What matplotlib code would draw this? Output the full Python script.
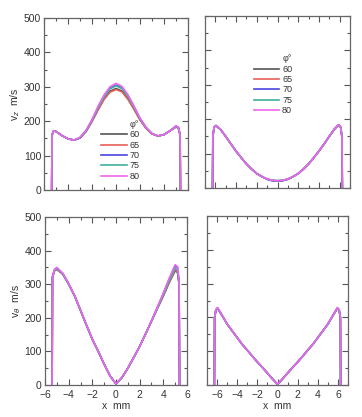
import matplotlib
matplotlib.use("Agg")
import matplotlib.pyplot as plt
from matplotlib.ticker import MultipleLocator

plt.rcParams['font.family'] = ['Liberation Sans', 'DejaVu Sans']

phi_labels = ["60", "65", "70", "75", "80"]
colors = ["#555555", "#e8605a", "#4a45e0", "#3fb0a0", "#ee66ee"]

# ---- top-left: v_z, narrow geometry ----
x_tl = [-5.36, -5.33, -5.2, -5.0, -4.5, -4.0, -3.5, -3.0, -2.5, -2.0, -1.5, -1.0,
        -0.5, 0.0, 0.5, 1.0, 1.5, 2.0, 2.5, 3.0, 3.5, 4.0, 4.5, 5.0, 5.2, 5.34, 5.37]
vz_tl_60 = [0, 160, 172, 170, 158, 149, 145, 151, 170, 200, 234, 265, 287, 295, 288, 266, 236, 205, 180, 163, 157, 161, 172, 183, 180, 160, 0]
vz_tl_65 = [0, 160, 172, 170, 158, 149, 145, 151, 170, 199, 232, 263, 284, 292, 285, 263, 234, 203, 179, 163, 157, 161, 172, 184, 181, 160, 0]
vz_tl_70 = [0, 160, 172, 170, 158, 149, 145, 152, 172, 203, 240, 272, 296, 305, 297, 274, 242, 208, 182, 164, 157, 161, 172, 186, 182, 160, 0]
vz_tl_75 = [0, 160, 172, 170, 158, 149, 145, 152, 172, 202, 238, 270, 294, 303, 295, 272, 240, 207, 181, 164, 157, 161, 172, 185, 181, 160, 0]
vz_tl_80 = [0, 160, 172, 170, 158, 149, 145, 153, 173, 205, 243, 276, 300, 310, 301, 277, 244, 209, 182, 164, 157, 161, 172, 186, 182, 160, 0]

# ---- top-right: v_z, wide geometry ----
x_tr = [-6.27, -6.24, -6.12, -5.95, -5.5, -5.0, -4.5, -4.0, -3.5, -3.0, -2.5, -2.0, -1.5,
        -1.0, -0.5, 0.0, 0.5, 1.0, 1.5, 2.0, 2.5, 3.0, 3.5, 4.0, 4.5, 5.0, 5.5, 5.9, 6.1, 6.22, 6.26]
vz_tr_60 = [0, 150, 177, 181, 170, 150, 128, 107, 88, 70, 55, 42, 33, 26, 22, 21, 22, 26, 33, 42, 55, 70, 88, 107, 128, 150, 171, 183, 176, 150, 0]
vz_tr_65 = [0, 150, 177, 181, 170, 150, 128, 107, 88, 70, 55, 42, 33, 26, 22, 21, 22, 26, 33, 42, 55, 70, 88, 107, 128, 150, 171, 183, 176, 150, 0]
vz_tr_70 = [0, 150, 177, 182, 170, 150, 128, 107, 88, 70, 55, 42, 33, 25, 21, 20, 21, 25, 33, 42, 55, 70, 88, 107, 128, 150, 172, 184, 177, 150, 0]
vz_tr_75 = [0, 150, 177, 181, 170, 150, 128, 107, 88, 70, 55, 42, 33, 26, 22, 21, 22, 26, 33, 42, 55, 70, 88, 107, 128, 150, 171, 183, 176, 150, 0]
vz_tr_80 = [0, 150, 177, 182, 170, 150, 128, 107, 88, 70, 55, 42, 33, 26, 22, 21, 22, 26, 33, 42, 55, 70, 88, 107, 128, 150, 172, 184, 177, 150, 0]

# ---- bottom-left: v_theta, narrow geometry ----
x_bl = [-5.4, -5.37, -5.2, -5.0, -4.5, -4.0, -3.5, -3.0, -2.5, -2.0, -1.5, -1.0, -0.5,
        0.0, 0.5, 1.0, 1.5, 2.0, 2.5, 3.0, 3.5, 4.0, 4.5, 5.0, 5.2, 5.33, 5.37]
vt_bl_60 = [0, 320, 340, 344, 330, 300, 265, 222, 178, 136, 100, 62, 27, 3, 22, 50, 82, 115, 152, 190, 228, 265, 305, 340, 335, 300, 0]
vt_bl_65 = [0, 320, 340, 344, 330, 300, 265, 222, 178, 136, 100, 62, 27, 3, 22, 50, 82, 115, 152, 190, 228, 266, 306, 343, 338, 300, 0]
vt_bl_70 = [0, 322, 343, 348, 332, 301, 266, 223, 179, 136, 100, 62, 27, 3, 22, 50, 82, 115, 152, 191, 231, 272, 315, 355, 350, 305, 0]
vt_bl_75 = [0, 321, 341, 346, 331, 300, 265, 222, 178, 136, 100, 62, 27, 3, 22, 50, 82, 115, 152, 190, 229, 268, 310, 348, 342, 302, 0]
vt_bl_80 = [0, 322, 344, 350, 333, 302, 266, 223, 179, 136, 100, 62, 27, 3, 22, 50, 82, 115, 152, 191, 232, 274, 318, 358, 352, 306, 0]

# ---- bottom-right: v_theta, wide geometry ----
x_br = [-6.27, -6.24, -6.12, -5.95, -5.5, -5.0, -4.5, -4.0, -3.5, -3.0, -2.5, -2.0, -1.5,
        -1.0, -0.5, 0.0, 0.5, 1.0, 1.5, 2.0, 2.5, 3.0, 3.5, 4.0, 4.5, 5.0, 5.5, 5.95, 6.12, 6.24, 6.27]
vt_br_60 = [0, 200, 222, 226, 205, 180, 160, 140, 120, 103, 85, 68, 52, 35, 18, 2, 18, 35, 52, 68, 85, 103, 120, 140, 160, 180, 205, 226, 222, 200, 0]
vt_br_65 = [0, 200, 222, 228, 206, 181, 160, 140, 120, 103, 85, 68, 52, 35, 18, 2, 18, 35, 52, 68, 85, 103, 120, 140, 160, 181, 206, 228, 222, 200, 0]
vt_br_70 = [0, 200, 222, 228, 206, 180, 160, 140, 120, 103, 85, 68, 52, 35, 18, 2, 18, 35, 52, 68, 85, 103, 120, 140, 160, 180, 206, 228, 222, 200, 0]
vt_br_75 = [0, 200, 222, 227, 205, 180, 160, 140, 120, 103, 85, 68, 52, 35, 18, 2, 18, 35, 52, 68, 85, 103, 120, 140, 160, 180, 205, 227, 222, 200, 0]
vt_br_80 = [0, 200, 223, 229, 206, 181, 160, 140, 120, 103, 85, 68, 52, 35, 18, 2, 18, 35, 52, 68, 85, 103, 120, 140, 160, 181, 206, 229, 223, 200, 0]

panels = [
    (x_tl, [vz_tl_60, vz_tl_65, vz_tl_70, vz_tl_75, vz_tl_80], (-6, 6)),
    (x_tr, [vz_tr_60, vz_tr_65, vz_tr_70, vz_tr_75, vz_tr_80], (-7, 7)),
    (x_bl, [vt_bl_60, vt_bl_65, vt_bl_70, vt_bl_75, vt_bl_80], (-6, 6)),
    (x_br, [vt_br_60, vt_br_65, vt_br_70, vt_br_75, vt_br_80], (-7, 7)),
]

W, H = 362, 417
boxes = [(44, 18, 188, 190), (205, 16, 350, 188), (45, 217, 187, 385), (207, 216, 348, 385)]

fig = plt.figure(figsize=(W / 100, H / 100), dpi=100)
txt = "#333333"
axes = []
for (xs, series, xl), (l, t, r, b) in zip(panels, boxes):
    ax = fig.add_axes([l / W, (H - b) / H, (r - l) / W, (b - t) / H])
    for ys, c, lab in zip(series, colors, phi_labels):
        ax.plot(xs, ys, color=c, lw=1.2, label=lab)
    ax.set_xlim(*xl)
    ax.set_ylim(0, 500)
    ax.xaxis.set_major_locator(MultipleLocator(2))
    ax.xaxis.set_minor_locator(MultipleLocator(1))
    ax.yaxis.set_major_locator(MultipleLocator(100))
    ax.yaxis.set_minor_locator(MultipleLocator(50))
    ax.tick_params(which='both', direction='in', top=True, right=True, color="#555555",
                   labelsize=7.5, labelcolor=txt, width=0.8, pad=2)
    ax.tick_params(which='major', length=4)
    ax.tick_params(which='minor', length=2.5)
    for s in ax.spines.values():
        s.set_color("#666666")
        s.set_linewidth(0.9)
    axes.append(ax)

ax_tl, ax_tr, ax_bl, ax_br = axes
ax_tl.tick_params(labelbottom=False)
ax_tr.tick_params(labelbottom=False, labelleft=False)
ax_br.tick_params(labelleft=False)
ax_bl.tick_params(axis='x', pad=3.5)
ax_br.tick_params(axis='x', pad=3.5)
ax_bl.tick_params(axis='y', pad=2.5)
ax_tl.set_ylabel("v$_z$  m/s", fontsize=7.5, color=txt, labelpad=1)
ax_bl.set_ylabel("v$_θ$  m/s", fontsize=7.5, color=txt, labelpad=1)
ax_bl.set_xlabel("x  mm", fontsize=7.5, color=txt, labelpad=1)
ax_br.set_xlabel("x  mm", fontsize=7.5, color=txt, labelpad=1)

leg_kw = dict(title="φ°", frameon=False, fontsize=6.5, title_fontsize=6.5,
              handlelength=2.8, labelspacing=0.15, handletextpad=0.3, borderpad=0.2)
l1 = ax_tl.legend(loc='center', bbox_to_anchor=(0.53, 0.23), **leg_kw)
l2 = ax_tr.legend(loc='center', bbox_to_anchor=(0.47, 0.6), **leg_kw)
for lg in (l1, l2):
    lg._legend_box.align = "right"
    for t in lg.get_texts():
        t.set_color(txt)
    lg.get_title().set_color(txt)

fig.savefig("out.png", dpi=100)
